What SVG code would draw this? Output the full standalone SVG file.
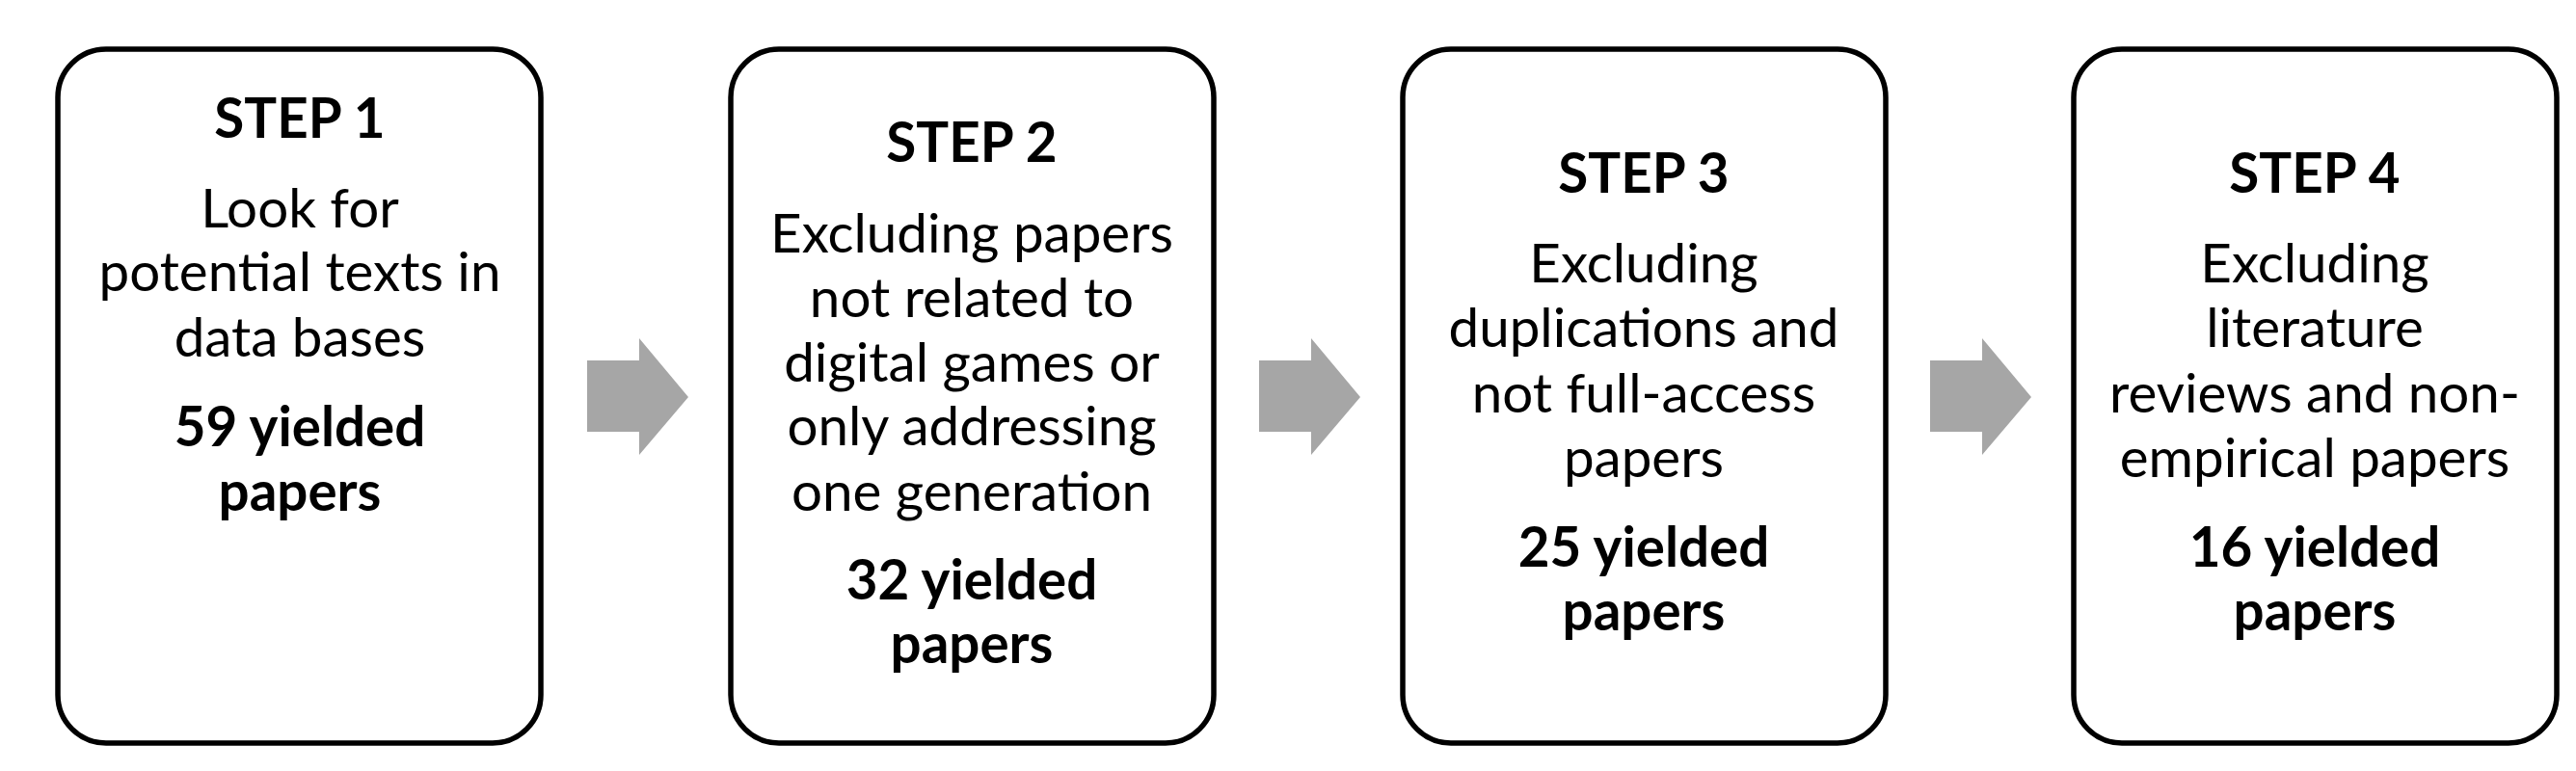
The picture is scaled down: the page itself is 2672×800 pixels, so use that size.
<svg xmlns="http://www.w3.org/2000/svg" width="2672" height="800" viewBox="0 0 2672 800">
<style>
.box{fill:#fff;stroke:#000;stroke-width:5.5}
.arr{fill:#a6a6a6}
text{font-family:Lato,"Open Sans","Liberation Sans",sans-serif;font-size:56.5px;fill:#000;text-anchor:middle}
.b{font-weight:bold}
</style>
<rect width="2672" height="800" fill="#fff"/>
<g id="connectors">
<polygon class="arr" points="609,374 663,374 663,351 714,412 663,472 663,448 609,448"/>
<polygon class="arr" points="1306,374 1360,374 1360,351 1411,412 1360,472 1360,448 1306,448"/>
<polygon class="arr" points="2002,374 2056,374 2056,351 2107,412 2056,472 2056,448 2002,448"/>
</g>
<g id="step1">
<rect class="box" x="60" y="51" width="501" height="720" rx="50"/>
<text class="b" x="311" y="143">STEP 1</text>
<text x="311" y="236">Look for</text>
<text x="311" y="302">potential texts in</text>
<text x="311" y="370">data bases</text>
<text class="b" x="311" y="463">59 yielded</text>
<text class="b" x="311" y="530">papers</text>
</g>
<g id="step2">
<rect class="box" x="758" y="51" width="501" height="720" rx="50"/>
<text class="b" x="1008" y="168">STEP 2</text>
<text x="1008" y="262">Excluding papers</text>
<text x="1008" y="329">not related to</text>
<text x="1008" y="396">digital games or</text>
<text x="1008" y="462">only addressing</text>
<text x="1008" y="530">one generation</text>
<text class="b" x="1008" y="622">32 yielded</text>
<text class="b" x="1008" y="688">papers</text>
</g>
<g id="step3">
<rect class="box" x="1455" y="51" width="501" height="720" rx="50"/>
<text class="b" x="1705" y="200">STEP 3</text>
<text x="1705" y="293">Excluding</text>
<text x="1705" y="360">duplications and</text>
<text x="1705" y="428">not full-access</text>
<text x="1705" y="495">papers</text>
<text class="b" x="1705" y="588">25 yielded</text>
<text class="b" x="1705" y="654">papers</text>
</g>
<g id="step4">
<rect class="box" x="2151" y="51" width="501" height="720" rx="50"/>
<text class="b" x="2401" y="200">STEP 4</text>
<text x="2401" y="293">Excluding</text>
<text x="2401" y="360">literature</text>
<text x="2401" y="428">reviews and non-</text>
<text x="2401" y="495">empirical papers</text>
<text class="b" x="2401" y="588">16 yielded</text>
<text class="b" x="2401" y="654">papers</text>
</g>
</svg>
